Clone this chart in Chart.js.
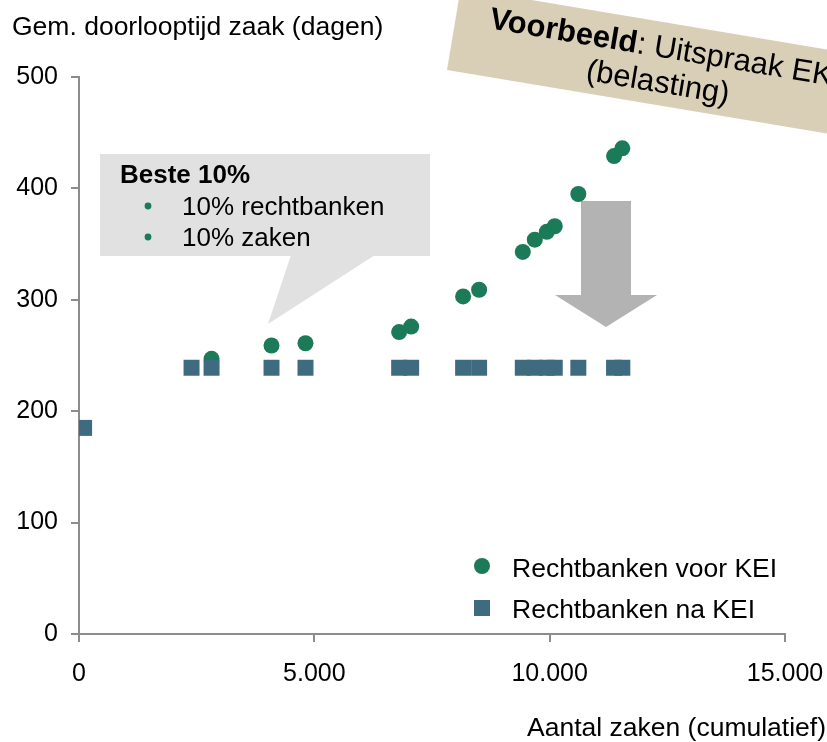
<!DOCTYPE html>
<html>
<head>
<meta charset="utf-8">
<script src="https://cdn.jsdelivr.net/npm/chart.js@4/dist/chart.umd.min.js"></script>
<style>
  html, body { margin: 0; padding: 0; background: #ffffff; }
  #wrap { width: 827px; height: 742px; position: relative; }
</style>
</head>
<body>
<div id="wrap"><canvas id="c" width="827" height="742"></canvas></div>
<script>
// ---- Data ----
const seriesNames = ['Rechtbanken voor KEI', 'Rechtbanken na KEI'];
const xBefore = [2816, 4090, 4812, 6802, 7057, 8161, 8501, 9429, 9684, 9939, 10108, 10609, 11368, 11544];
const yBefore = [247, 259, 261, 271, 276, 303, 309, 343, 354, 361, 366, 395, 429, 436];
const xAfter = [108, 2391, 2816, 4090, 4812, 6802, 7057, 8161, 8501, 9429, 9684, 9939, 10108, 10609, 11368, 11544];
const yAfter = [185, 239, 239, 239, 239, 239, 239, 239, 239, 239, 239, 239, 239, 239, 239, 239];
const xTicks = [0, 5000, 10000, 15000];
const yTicks = [0, 100, 200, 300, 400, 500];
const yTitle = 'Gem. doorlooptijd zaak (dagen)';
const xTitle = 'Aantal zaken (cumulatief)';
const calloutTitle = 'Beste 10%';
const calloutItems = ['10% rechtbanken', '10% zaken'];
const bannerBold = 'Voorbeeld';
const bannerRest = ': Uitspraak EK';
const bannerLine2 = '(belasting)';

// ---- Styles ----
const FONT = '"Liberation Sans", Arial, Helvetica, sans-serif';
const GREEN = '#1b7a57';
const BLUE = '#3e6b80';
const AXIS = '#8c8c8c';

const fmt = v => String(v).replace(/\B(?=(\d{3})+(?!\d))/g, '.');

const decor = {
  id: 'decor',
  beforeDatasetsDraw(chart) {
    const ctx = chart.ctx;
    ctx.save();
    // Callout box
    ctx.fillStyle = '#e1e1e1';
    ctx.fillRect(100, 154, 330, 102);
    ctx.beginPath();
    ctx.moveTo(291, 255);
    ctx.lineTo(375, 255);
    ctx.lineTo(268, 324);
    ctx.closePath();
    ctx.fill();
    ctx.fillStyle = '#000';
    ctx.textBaseline = 'alphabetic';
    ctx.textAlign = 'left';
    ctx.font = 'bold 26px ' + FONT;
    ctx.fillText(calloutTitle, 120, 183);
    ctx.font = '26px ' + FONT;
    calloutItems.forEach((t, i) => {
      const by = 215 + i * 31;
      ctx.fillStyle = GREEN;
      ctx.beginPath();
      ctx.arc(148, by - 9, 3.4, 0, Math.PI * 2);
      ctx.fill();
      ctx.fillStyle = '#000';
      ctx.fillText(t, 182, by);
    });
    // Gray arrow
    ctx.fillStyle = '#b3b3b3';
    ctx.beginPath();
    ctx.moveTo(581, 201);
    ctx.lineTo(631, 201);
    ctx.lineTo(631, 295);
    ctx.lineTo(657, 295);
    ctx.lineTo(606, 327);
    ctx.lineTo(555, 295);
    ctx.lineTo(581, 295);
    ctx.closePath();
    ctx.fill();
    ctx.restore();
  },
  afterDraw(chart) {
    const ctx = chart.ctx;
    ctx.save();
    // Axis titles
    ctx.fillStyle = '#000';
    ctx.font = '26.5px ' + FONT;
    ctx.textBaseline = 'alphabetic';
    ctx.textAlign = 'left';
    ctx.fillText(yTitle, 12, 35);
    ctx.textAlign = 'right';
    ctx.fillText(xTitle, 826, 736);
    // Legend
    ctx.textAlign = 'left';
    ctx.fillStyle = GREEN;
    ctx.beginPath();
    ctx.arc(482, 566, 8, 0, Math.PI * 2);
    ctx.fill();
    ctx.fillStyle = BLUE;
    ctx.fillRect(474, 600, 16, 16);
    ctx.fillStyle = '#000';
    ctx.fillText(seriesNames[0], 512, 577);
    ctx.fillText(seriesNames[1], 512, 618);
    // Banner
    ctx.translate(447, 70);
    ctx.rotate(9.5 * Math.PI / 180);
    ctx.fillStyle = '#d8cfb6';
    ctx.fillRect(0, -83, 440, 83);
    ctx.fillStyle = '#000';
    ctx.font = 'bold 31px ' + FONT;
    const wB = ctx.measureText(bannerBold).width;
    const cx = 210;
    const sx = 34;
    ctx.textAlign = 'left';
    ctx.fillText(bannerBold, sx, -48);
    ctx.font = '31px ' + FONT;
    ctx.fillText(bannerRest, sx + wB, -48);
    ctx.textAlign = 'center';
    ctx.fillText(bannerLine2, cx, -13);
    ctx.restore();
  }
};

new Chart(document.getElementById('c'), {
  type: 'scatter',
  data: {
    datasets: [
      {
        label: seriesNames[1],
        data: xAfter.map((x, i) => ({ x: x, y: yAfter[i] })),
        pointStyle: 'rect',
        pointRadius: 11.3,
        pointBackgroundColor: BLUE,
        pointBorderWidth: 0,
        borderWidth: 0,
        showLine: false
      },
      {
        label: seriesNames[0],
        data: xBefore.map((x, i) => ({ x: x, y: yBefore[i] })),
        pointStyle: 'circle',
        pointRadius: 8,
        pointBackgroundColor: GREEN,
        pointBorderWidth: 0,
        borderWidth: 0,
        showLine: false
      }
    ]
  },
  options: {
    responsive: false,
    animation: false,
    events: [],
    layout: { padding: { top: 77, right: 42, left: 0, bottom: 0 } },
    plugins: { legend: { display: false }, tooltip: { enabled: false } },
    scales: {
      x: {
        type: 'linear',
        min: 0, max: 15000,
        afterFit(s) { s.height = 108; s.paddingLeft = 0; s.paddingRight = 0; },
        afterBuildTicks(s) { s.ticks = xTicks.map(v => ({ value: v })); },
        border: { display: true, color: AXIS, width: 2 },
        grid: { display: true, drawOnChartArea: false, drawTicks: true, tickLength: 8, color: AXIS, lineWidth: 2 },
        ticks: { maxRotation: 0, minRotation: 0, padding: 17, color: '#000', font: { family: FONT, size: 25 }, callback: v => fmt(v) }
      },
      y: {
        type: 'linear',
        min: 0, max: 500,
        afterFit(s) { s.width = 79; s.paddingTop = 0; s.paddingBottom = 0; },
        afterBuildTicks(s) { s.ticks = yTicks.map(v => ({ value: v })); },
        border: { display: true, color: AXIS, width: 2 },
        grid: { display: true, drawOnChartArea: false, drawTicks: true, tickLength: 8, color: AXIS, lineWidth: 2 },
        ticks: { padding: 13, color: '#000', font: { family: FONT, size: 25 }, callback: v => fmt(v) }
      }
    }
  },
  plugins: [decor]
});
</script>
</body>
</html>
